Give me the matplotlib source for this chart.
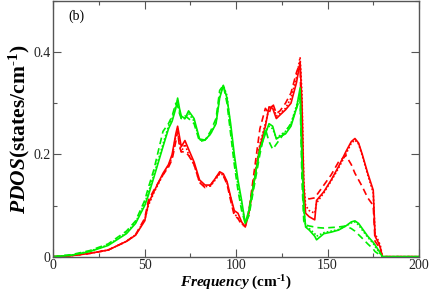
import matplotlib
matplotlib.use('Agg')
import matplotlib.pyplot as plt
from matplotlib.ticker import MultipleLocator

# frequency grid (cm^-1) shared by all curves
freq = [0, 10, 20, 30, 40, 45, 50, 52, 55, 60,
        63, 65, 67, 68, 69, 70, 72, 74, 77, 80,
        83, 86, 89, 91, 93, 95, 97, 99, 101, 103,
        105, 107, 110, 113, 116, 118, 120, 122, 124, 127,
        130, 133, 135, 136, 137, 138, 140, 143, 144, 148,
        152, 156, 160, 163, 165, 167, 169, 172, 175, 176,
        178, 179, 180, 200]

red_solid = [0, 0.002, 0.0065, 0.013, 0.03, 0.042, 0.07, 0.104, 0.127, 0.163,
             0.18, 0.2, 0.24, 0.255, 0.235, 0.215, 0.227, 0.21, 0.185, 0.15,
             0.14, 0.14, 0.155, 0.166, 0.162, 0.147, 0.117, 0.09, 0.085, 0.068,
             0.058, 0.085, 0.15, 0.215, 0.255, 0.293, 0.29, 0.27, 0.277, 0.287,
             0.3, 0.34, 0.38, 0.3, 0.14, 0.085, 0.078, 0.072, 0.11, 0.127,
             0.15, 0.176, 0.205, 0.225, 0.231, 0.222, 0.2, 0.163, 0.13, 0.04,
             0.026, 0.016, 0.0, 0.0]
red_dash = [0, 0.002, 0.0065, 0.013, 0.03, 0.043, 0.075, 0.11, 0.13, 0.16,
            0.175, 0.19, 0.225, 0.245, 0.215, 0.205, 0.205, 0.198, 0.18, 0.145,
            0.135, 0.14, 0.155, 0.163, 0.158, 0.142, 0.11, 0.08, 0.075, 0.062,
            0.06, 0.09, 0.17, 0.25, 0.29, 0.28, 0.3, 0.28, 0.285, 0.3,
            0.32, 0.36, 0.38, 0.2, 0.12, 0.115, 0.113, 0.115, 0.12, 0.14,
            0.16, 0.185, 0.198, 0.18, 0.163, 0.15, 0.137, 0.115, 0.1, 0.03,
            0.02, 0.01, 0, 0]
red_dot = [0, 0.002, 0.0065, 0.013, 0.03, 0.043, 0.072, 0.1, 0.125, 0.16,
           0.178, 0.195, 0.235, 0.25, 0.22, 0.205, 0.22, 0.2, 0.18, 0.145,
           0.137, 0.138, 0.152, 0.162, 0.16, 0.145, 0.115, 0.085, 0.075, 0.065,
           0.06, 0.09, 0.155, 0.22, 0.26, 0.29, 0.295, 0.275, 0.28, 0.29,
           0.31, 0.35, 0.39, 0.32, 0.15, 0.1, 0.09, 0.085, 0.105, 0.125,
           0.148, 0.173, 0.2, 0.222, 0.228, 0.22, 0.198, 0.16, 0.125, 0.045,
           0.03, 0.02, 0, 0]

green_solid = [0, 0.003, 0.01, 0.022, 0.045, 0.065, 0.1, 0.12, 0.155, 0.215,
               0.25, 0.265, 0.29, 0.31, 0.29, 0.275, 0.27, 0.285, 0.27, 0.23,
               0.228, 0.24, 0.26, 0.31, 0.335, 0.31, 0.26, 0.2, 0.15, 0.11,
               0.065, 0.09, 0.15, 0.21, 0.24, 0.26, 0.255, 0.23, 0.235, 0.24,
               0.255, 0.29, 0.33, 0.2, 0.1, 0.058, 0.052, 0.04, 0.033, 0.045,
               0.048, 0.052, 0.06, 0.068, 0.07, 0.065, 0.055, 0.04, 0.028, 0.023,
               0.012, 0.006, 0, 0]
green_dash = [0, 0.004, 0.012, 0.025, 0.05, 0.07, 0.11, 0.135, 0.17, 0.245,
              0.26, 0.275, 0.3, 0.295, 0.28, 0.27, 0.275, 0.27, 0.26, 0.225,
              0.228, 0.245, 0.27, 0.325, 0.335, 0.3, 0.24, 0.18, 0.13, 0.09,
              0.065, 0.08, 0.14, 0.2, 0.25, 0.225, 0.21, 0.22, 0.23, 0.245,
              0.26, 0.29, 0.31, 0.15, 0.07, 0.062, 0.06, 0.058, 0.057, 0.056,
              0.057, 0.058, 0.06, 0.055, 0.05, 0.043, 0.036, 0.025, 0.015, 0.01,
              0.005, 0.002, 0, 0]
green_dot = [0, 0.003, 0.011, 0.023, 0.047, 0.067, 0.105, 0.125, 0.16, 0.22,
             0.255, 0.27, 0.295, 0.305, 0.285, 0.27, 0.27, 0.28, 0.265, 0.228,
             0.228, 0.24, 0.262, 0.315, 0.335, 0.315, 0.25, 0.19, 0.14, 0.1,
             0.065, 0.09, 0.15, 0.21, 0.245, 0.255, 0.25, 0.232, 0.237, 0.245,
             0.26, 0.295, 0.32, 0.18, 0.09, 0.06, 0.055, 0.045, 0.04, 0.047,
             0.05, 0.053, 0.06, 0.066, 0.068, 0.062, 0.052, 0.038, 0.026, 0.02,
             0.01, 0.005, 0, 0]

plt.rcParams['font.family'] = 'Liberation Serif'
plt.rcParams['mathtext.fontset'] = 'custom'
plt.rcParams['mathtext.rm'] = 'Liberation Serif:bold'
plt.rcParams['mathtext.it'] = 'Liberation Serif:italic:bold'
plt.rcParams['mathtext.bf'] = 'Liberation Serif:bold'

fig = plt.figure(figsize=(4.31, 2.96), dpi=100)
ax = fig.add_axes([0.1237, 0.1328, 0.8483, 0.8642])

lw = 1.2
ax.plot(freq, red_dot, color='#ff0000', lw=lw, ls=(0, (1, 1.2)))
ax.plot(freq, red_dash, color='#ff0000', lw=lw, ls=(0, (4, 2.5)))
ax.plot(freq, red_solid, color='#ff0000', lw=lw)
ax.plot(freq, green_dot, color='#00ee00', lw=lw, ls=(0, (1, 1.2)))
ax.plot(freq, green_dash, color='#00ee00', lw=lw, ls=(0, (4, 2.5)))
ax.plot(freq, green_solid, color='#00ee00', lw=lw)

ax.set_xlim(0, 200)
ax.set_ylim(0, 0.5)
ax.xaxis.set_minor_locator(MultipleLocator(25))
ax.yaxis.set_minor_locator(MultipleLocator(0.1))
ax.set_xticks([0, 50, 100, 150, 200])
ax.set_xticklabels(['0', '50', '100', '150', '200'])
ax.set_yticks([0, 0.2, 0.4])
ax.set_yticklabels(['0', '0.2', '0.4'])

ax.tick_params(which='both', direction='in', top=True, right=True,
               colors='#555555', labelcolor='#222222', labelsize=10, pad=2)
ax.tick_params(which='major', length=6, width=0.8)
ax.tick_params(which='minor', length=3, width=0.8)
for s in ax.spines.values():
    s.set_color('#555555')
    s.set_linewidth(1.0)

ax.set_xlabel(r'$\it{Frequency}$ (cm$^{\text{-1}}$)', fontsize=11,
              fontweight='bold', labelpad=1)
ax.set_ylabel(r'$\it{PDOS}$(states/cm$^{\text{-1}}$)', fontsize=15.5,
              fontweight='bold', labelpad=1)
ax.text(0.04, 0.965, '(b)', transform=ax.transAxes, fontsize=10,
        va='top', ha='left')

fig.savefig('out.png', dpi=100)
